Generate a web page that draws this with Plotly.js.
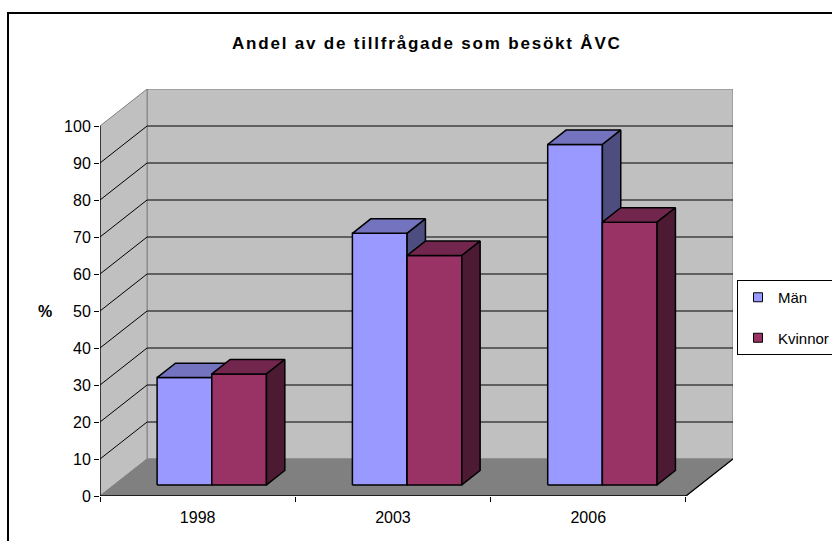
<!DOCTYPE html>
<html>
<head>
<meta charset="utf-8">
<script src="https://cdn.plot.ly/plotly-3.0.1.min.js"></script>
<style>
  html, body { margin: 0; padding: 0; background: #ffffff; }
  #chart { width: 832px; height: 541px; }
  .gtitle { letter-spacing: 1.8px; }
</style>
</head>
<body>
<div id="chart"></div>
<script>
// ---- data ----
const categories = ['1998', '2003', '2006'];
const manValues = [29, 68, 92];
const kvinnorValues = [30, 62, 71];
const seriesNames = ['Män', 'Kvinnor'];
const yTickValues = [0, 10, 20, 30, 40, 50, 60, 70, 80, 90, 100];
const titleText = 'Andel av de tillfrågade som besökt ÅVC';
const yTitleText = '%';

// ---- 3D-look geometry (in axis units) ----
const DX = 47 / 195;     // depth offset along x (category units)
const DY = 10;           // depth offset along y (value units)
const D0 = 0.30;         // bar front depth fraction
const D1 = 0.69;         // bar back depth fraction
const W = 0.28;          // bar width
const X0 = -0.5, X1 = categories.length - 0.5;
const YMAX = yTickValues[yTickValues.length - 1];

const colors = {
  man: { front: '#9999FF', top: '#7373BF', side: '#4D4D80' },
  kvinnor: { front: '#993366', top: '#73264D', side: '#4D1A33' },
  wall: '#C0C0C0', floor: '#808080', edge: '#808080'
};

function poly(xs, ys, fill, lineColor, lineWidth) {
  return {
    type: 'scatter', mode: 'lines', x: xs, y: ys, fill: 'toself',
    fillcolor: fill, line: { color: lineColor, width: lineWidth },
    hoverinfo: 'skip', showlegend: false, cliponaxis: false
  };
}
function lines(xs, ys, color, width) {
  return {
    type: 'scatter', mode: 'lines', x: xs, y: ys,
    line: { color: color, width: width }, connectgaps: false,
    hoverinfo: 'skip', showlegend: false, cliponaxis: false
  };
}

const traces = [];
// back wall
traces.push(poly([X0 + DX, X1 + DX, X1 + DX, X0 + DX, X0 + DX],
                 [DY, DY, YMAX + DY, YMAX + DY, DY], colors.wall, colors.edge, 1));
// side wall
traces.push(poly([X0, X0 + DX, X0 + DX, X0, X0],
                 [0, DY, YMAX + DY, YMAX, 0], colors.wall, colors.edge, 1));
// floor
traces.push(poly([X0, X1, X1 + DX, X0 + DX, X0],
                 [0, 0, DY, DY, 0], colors.floor, colors.edge, 1));

// gridlines on back wall and side wall
const gx = [], gy = [];
yTickValues.forEach(t => {
  if (t > 0 && t < YMAX) {
    gx.push(X0 + DX, X1 + DX, null, X0, X0 + DX, null);
    gy.push(t + DY, t + DY, null, t, t + DY, null);
  }
});
traces.push(lines(gx, gy, '#000000', 1));

// front axis lines + right floor edge
traces.push(lines([X0, X0, null, X0, X1, X1 + DX],
                  [0, YMAX, null, 0, 0, DY], '#000000', 1.3));

// bars
function barTraces(vals, left, c) {
  const fx = [], fy = [], tx = [], ty = [], sx = [], sy = [];
  const bdx = (D1 - D0) * DX, bdy = (D1 - D0) * DY;
  vals.forEach((v, i) => {
    const xl = i + D0 * DX + (left ? -W : 0);
    const xr = xl + W;
    const yb = D0 * DY;
    const yt = yb + v;
    fx.push(xl, xr, xr, xl, xl, null); fy.push(yb, yb, yt, yt, yb, null);
    tx.push(xl, xr, xr + bdx, xl + bdx, xl, null); ty.push(yt, yt, yt + bdy, yt + bdy, yt, null);
    sx.push(xr, xr + bdx, xr + bdx, xr, xr, null); sy.push(yb, yb + bdy, yt + bdy, yt, yb, null);
  });
  return [poly(fx, fy, c.front, '#000000', 1.5),
          poly(tx, ty, c.top, '#000000', 1.5),
          poly(sx, sy, c.side, '#000000', 1.5)];
}
traces.push(...barTraces(manValues, true, colors.man));
traces.push(...barTraces(kvinnorValues, false, colors.kvinnor));

// legend entries
traces.push({ type: 'scatter', mode: 'markers', x: [null], y: [null], name: seriesNames[0],
  legendgroup: 'a', marker: { symbol: 'square', size: 9, color: colors.man.front, line: { color: '#000', width: 1 } } });
traces.push({ type: 'scatter', mode: 'markers', x: [null], y: [null], name: seriesNames[1],
  legendgroup: 'b', marker: { symbol: 'square', size: 9, color: colors.kvinnor.front, line: { color: '#000', width: 1 } } });

const L = 100, T = 89, PW = 633, PH = 407;
const px = v => (v - L) / PW;
const py = v => (T + PH - v) / PH;

const layout = {
  width: 832, height: 541,
  margin: { l: L, r: 832 - L - PW, t: T, b: 541 - T - PH, autoexpand: false },
  paper_bgcolor: '#ffffff', plot_bgcolor: 'rgba(0,0,0,0)',
  font: { family: 'Liberation Sans, Arial, sans-serif', size: 16, color: '#000000' },
  title: { text: '<b>' + titleText + '</b>', font: { size: 17, color: '#000000' },
           x: 0.513, xref: 'container', xanchor: 'center', y: 1 - 43 / 541, yref: 'container', yanchor: 'middle' },
  showlegend: true,
  legend: {
    x: px(737), y: py(280), xanchor: 'left', yanchor: 'top',
    bordercolor: '#000000', borderwidth: 1, bgcolor: '#ffffff',
    traceorder: 'grouped', tracegroupgap: 18, font: { size: 15 }, itemwidth: 30
  },
  xaxis: {
    range: [X0, X1 + DX], showgrid: false, zeroline: false, showline: false,
    tickmode: 'array', tickvals: categories.map((c, i) => i), ticktext: categories,
    ticks: '', ticklabelstandoff: 10, fixedrange: true,
    minor: { tickmode: 'array', tickvals: categories.map((c, i) => i - 0.5).concat([X1]),
             ticks: 'outside', ticklen: 5, tickcolor: '#000000', tickwidth: 1, showgrid: false }
  },
  yaxis: {
    range: [0, YMAX + DY], showgrid: false, zeroline: false, showline: false,
    tickmode: 'array', tickvals: yTickValues, ticktext: yTickValues.map(String),
    ticks: 'outside', ticklen: 5, tickcolor: '#000000', tickwidth: 1, fixedrange: true
  },
  annotations: [{
    text: '<b>' + yTitleText + '</b>', xref: 'paper', yref: 'paper',
    x: px(45), y: py(311), showarrow: false, xanchor: 'center', yanchor: 'middle',
    font: { size: 16 }
  }],
  shapes: [{
    type: 'rect', xref: 'paper', yref: 'paper',
    x0: px(8), x1: px(845), y0: py(560), y1: py(13),
    line: { color: '#000000', width: 2 }, fillcolor: 'rgba(0,0,0,0)', layer: 'above'
  }]
};

Plotly.newPlot('chart', traces, layout, { staticPlot: true, displayModeBar: false });
</script>
</body>
</html>
